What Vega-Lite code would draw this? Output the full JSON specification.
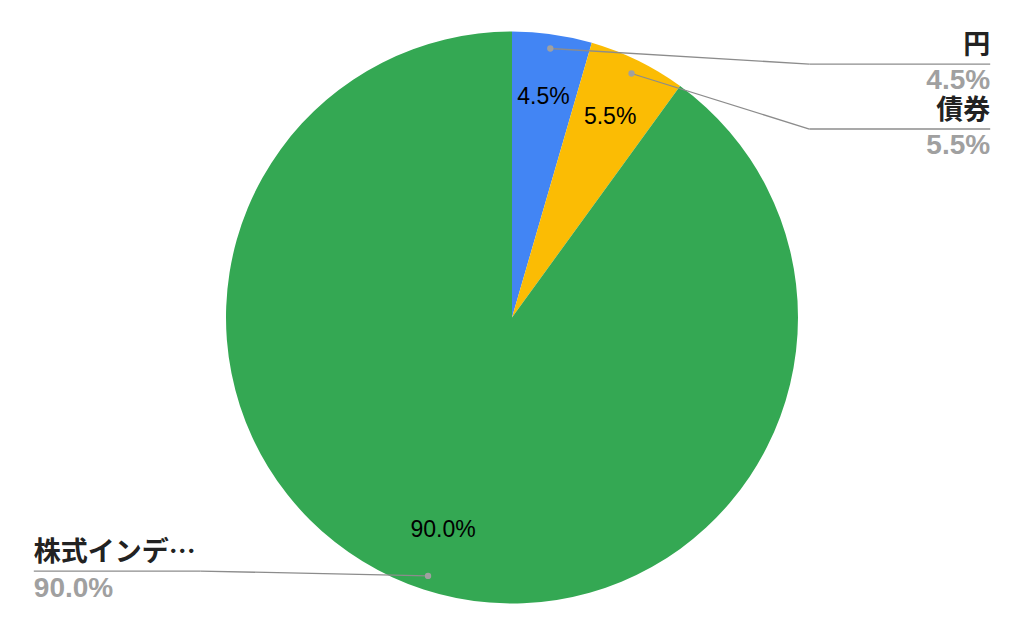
{
  "$schema": "https://vega.github.io/schema/vega-lite/v6.json",
  "width": 1024,
  "height": 635,
  "autosize": {"type": "fit", "contains": "padding"},
  "padding": 0,
  "background": "white",
  "config": {"view": {"stroke": null}},
  "data": {"values": [
    {"label": "円", "value": 4.5},
    {"label": "債券", "value": 5.5},
    {"label": "株式インデ…", "value": 90.0}
  ]},
  "transform": [
    {"window": [{"op": "sum", "field": "value", "as": "cum"}, {"op": "row_number", "as": "rank"}], "sort": [{"field": "value", "order": "ascending"}]},
    {"calculate": "2*PI*(datum.cum - datum.value/2)/100", "as": "mid"},
    {"calculate": "datum.mid < PI ? 1 : -1", "as": "side"},
    {"calculate": "0.95*sin(datum.mid)", "as": "dx"},
    {"calculate": "0.95*cos(datum.mid)", "as": "dy"},
    {"calculate": "0.78*sin(datum.mid)", "as": "ix"},
    {"calculate": "0.78*cos(datum.mid)", "as": "iy"},
    {"calculate": "datum.side * 1.672", "as": "lx"},
    {"calculate": "datum.side > 0 ? 1.04 : -1.09", "as": "ex"},
    {"calculate": "datum.side > 0 ? 0.886 - 0.227*(datum.rank-1) : datum.dy + 0.017", "as": "ly"},
    {"calculate": "format(datum.value, '.1f') + '%'", "as": "pct"}
  ],
  "encoding": {
    "x": {"type": "quantitative", "scale": {"domain": [-1.7902, 1.7902], "nice": false, "zero": false}, "axis": null},
    "y": {"type": "quantitative", "scale": {"domain": [-1.1101, 1.1101], "nice": false, "zero": false}, "axis": null}
  },
  "layer": [
    {
      "mark": {"type": "arc", "outerRadius": 286, "stroke": "white", "strokeWidth": 0},
      "encoding": {
        "x": null, "y": null,
        "theta": {"field": "value", "type": "quantitative", "stack": true},
        "order": {"field": "value", "type": "quantitative", "sort": "ascending"},
        "color": {"field": "label", "type": "nominal", "legend": null,
          "scale": {"domain": ["円", "債券", "株式インデ…"], "range": ["#4285F4", "#FBBC04", "#34A853"]}}
      }
    },
    {
      "mark": {"type": "text", "font": "Liberation Sans", "fontSize": 23, "color": "#000000", "baseline": "middle", "align": "center"},
      "encoding": {"x": {"field": "ix", "type": "quantitative"}, "y": {"field": "iy", "type": "quantitative"}, "text": {"field": "pct"}}
    },
    {
      "mark": {"type": "rule", "color": "#8c8c8c", "strokeWidth": 1.3},
      "encoding": {"x": {"field": "lx", "type": "quantitative"}, "x2": {"field": "ex"}, "y": {"field": "ly", "type": "quantitative"}}
    },
    {
      "mark": {"type": "rule", "color": "#8c8c8c", "strokeWidth": 1.3},
      "encoding": {"x": {"field": "ex", "type": "quantitative"}, "x2": {"field": "dx"}, "y": {"field": "ly", "type": "quantitative"}, "y2": {"field": "dy"}}
    },
    {
      "mark": {"type": "point", "filled": true, "color": "#a0a0a0", "size": 40, "opacity": 1},
      "encoding": {"x": {"field": "dx", "type": "quantitative"}, "y": {"field": "dy", "type": "quantitative"}}
    },
    {
      "transform": [{"filter": "datum.side > 0"}],
      "mark": {"type": "text", "font": "Noto Sans CJK JP", "fontWeight": "bold", "fontSize": 27, "color": "#222222", "align": "right", "baseline": "alphabetic", "dy": -10},
      "encoding": {"x": {"field": "lx", "type": "quantitative"}, "y": {"field": "ly", "type": "quantitative"}, "text": {"field": "label"}}
    },
    {
      "transform": [{"filter": "datum.side < 0"}],
      "mark": {"type": "text", "font": "Noto Sans CJK JP", "fontWeight": "bold", "fontSize": 27, "color": "#222222", "align": "left", "baseline": "alphabetic", "dy": -10},
      "encoding": {"x": {"field": "lx", "type": "quantitative"}, "y": {"field": "ly", "type": "quantitative"}, "text": {"field": "label"}}
    },
    {
      "transform": [{"filter": "datum.side > 0"}],
      "mark": {"type": "text", "font": "Liberation Sans", "fontWeight": "bold", "fontSize": 28, "color": "#a0a0a0", "align": "right", "baseline": "alphabetic", "dy": 25},
      "encoding": {"x": {"field": "lx", "type": "quantitative"}, "y": {"field": "ly", "type": "quantitative"}, "text": {"field": "pct"}}
    },
    {
      "transform": [{"filter": "datum.side < 0"}],
      "mark": {"type": "text", "font": "Liberation Sans", "fontWeight": "bold", "fontSize": 28, "color": "#a0a0a0", "align": "left", "baseline": "alphabetic", "dy": 26},
      "encoding": {"x": {"field": "lx", "type": "quantitative"}, "y": {"field": "ly", "type": "quantitative"}, "text": {"field": "pct"}}
    }
  ]
}
